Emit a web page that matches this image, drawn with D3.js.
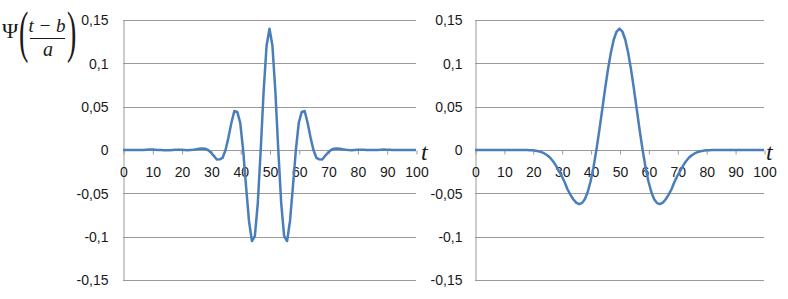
<!DOCTYPE html>
<html>
<head>
<meta charset="utf-8">
<script src="https://cdn.jsdelivr.net/npm/d3@7/dist/d3.min.js"></script>
<style>
    body { margin: 0; background: #fff; }
    svg { display: block; }
</style>
</head>
<body>
<div id="chart"></div>
<script>
// x values: t = 0..100
const tValues = d3.range(0, 101);

// left: Morlet-like wavelet
const morletValues = [
    0, 0, 0, 0, 0, 0, 0, 0, 0.0003, 0.0005,
    0.0005, 0.0003, 0, 0, -0.0002, -0.0003, -0.0002, 0, 0.0002, 0.0004,
    0.0003, 0, -0.0003, 0, 0.0003, 0.0008, 0.0014, 0.0018, 0.0015, 0,
    -0.0029, -0.0067, -0.0110, -0.0108, -0.0090, 0, 0.0146, 0.0314, 0.0450, 0.0440,
    0.0315, 0, -0.0420, -0.0819, -0.1050, -0.0993, -0.0616, 0, 0.0678, 0.1203,
    0.1400,
    0.1203, 0.0678, 0, -0.0616, -0.0993, -0.1050, -0.0819, -0.0420, 0, 0.0315,
    0.0440, 0.0450, 0.0314, 0.0146, 0, -0.0090, -0.0108, -0.0110, -0.0067, -0.0029,
    0, 0.0015, 0.0018, 0.0014, 0.0008, 0.0003, 0, -0.0002, 0, 0.0002,
    0.0003, 0.0002, 0, 0, 0, 0, 0, 0.0003, 0.0005, 0.0004,
    0.0002, 0, 0, 0, 0, 0, 0, 0, 0, 0
];

// right: Mexican hat
const hatValues = [
    0, 0, 0, 0, 0, 0, 0, 0, 0, 0,
    0, 0, 0, 0, 0, 0, 0, 0, 0, -0.0002,
    -0.0004, -0.0008, -0.0015, -0.0025, -0.0040, -0.0060, -0.0090, -0.0130, -0.0180, -0.0240,
    -0.0300, -0.0370, -0.0453, -0.0515, -0.0568, -0.0607, -0.0625, -0.0613, -0.0568, -0.0485,
    -0.0361, -0.0198, 0, 0.0224, 0.0462, 0.0702, 0.0927, 0.1121, 0.1272, 0.1367,
    0.1400,
    0.1367, 0.1272, 0.1121, 0.0927, 0.0702, 0.0462, 0.0224, 0, -0.0198, -0.0361,
    -0.0485, -0.0568, -0.0613, -0.0625, -0.0607, -0.0568, -0.0515, -0.0453, -0.0370, -0.0300,
    -0.0240, -0.0180, -0.0130, -0.0090, -0.0060, -0.0040, -0.0025, -0.0015, -0.0008, -0.0004,
    -0.0002, 0, 0, 0, 0, 0, 0, 0, 0, 0,
    0, 0, 0, 0, 0, 0, 0, 0, 0, 0
];

const yTicks = [0.15, 0.1, 0.05, 0, -0.05, -0.1, -0.15];
const xTicks = [0, 10, 20, 30, 40, 50, 60, 70, 80, 90, 100];

const width = 788, height = 299;

const svg = d3.select("#chart")
    .append("svg")
    .attr("width", width)
    .attr("height", height);

const fmt = v => v === 0 ? "0" : String(+v.toFixed(2)).replace(".", ",");

const y = d3.scaleLinear().domain([-0.15, 0.15]).range([280, 20]);

function drawPanel(values, left, right, labelGap, tX) {
    const x = d3.scaleLinear().domain([0, 100]).range([left, right]);
    const g = svg.append("g");

    // horizontal gridlines
    g.append("g")
        .selectAll("line")
        .data(yTicks)
        .enter().append("line")
        .attr("x1", left)
        .attr("x2", right)
        .attr("y1", d => Math.round(y(d)) + 0.5)
        .attr("y2", d => Math.round(y(d)) + 0.5)
        .attr("stroke", "#9a9a9a")
        .attr("stroke-width", 1);

    // vertical axis with labels
    const yAxis = g.append("g")
        .attr("transform", `translate(${left + 0.5},0.5)`)
        .call(d3.axisLeft(y).tickValues(yTicks).tickFormat(fmt).tickSize(0).tickPadding(labelGap));
    yAxis.select(".domain").attr("stroke", "#9a9a9a");
    yAxis.selectAll("text")
        .attr("font-family", "'Liberation Sans', Arial, sans-serif")
        .attr("font-size", "14px")
        .attr("fill", "#1a1a1a");

    // horizontal axis through zero
    const xAxis = g.append("g")
        .attr("transform", `translate(0.5,${Math.round(y(0)) + 0.5})`)
        .call(d3.axisBottom(x).tickValues(xTicks).tickSize(4).tickPadding(13));
    xAxis.select(".domain").remove();
    xAxis.selectAll(".tick line").attr("stroke", "#9a9a9a");
    xAxis.selectAll("text")
        .attr("font-family", "'Liberation Sans', Arial, sans-serif")
        .attr("font-size", "14px")
        .attr("fill", "#1a1a1a");

    // curve
    const line = d3.line()
        .x((d, i) => x(tValues[i]))
        .y(d => y(d));

    g.append("path")
        .datum(values)
        .attr("fill", "none")
        .attr("stroke", "#4a7ebb")
        .attr("stroke-width", 2.5)
        .attr("stroke-linejoin", "round")
        .attr("d", line);

    // axis name
    g.append("text")
        .attr("x", tX)
        .attr("y", 160)
        .attr("font-family", "'Liberation Serif', 'Times New Roman', serif")
        .attr("font-style", "italic")
        .attr("font-size", "24px")
        .attr("fill", "#1a1a1a")
        .text("t");
}

drawPanel(morletValues, 123, 416, 15, 421);
drawPanel(hatValues, 475, 764, 13, 766);

// y axis title: Psi((t - b) / a)
const title = svg.append("g")
    .attr("font-family", "'Liberation Serif', 'Times New Roman', serif")
    .attr("fill", "#1a1a1a");

title.append("text")
    .attr("x", 2)
    .attr("y", 38)
    .attr("font-size", "22px")
    .text("Ψ");

title.append("text")
    .attr("transform", "translate(19,51) scale(0.5,1)")
    .attr("font-size", "56px")
    .text("(");

title.append("text")
    .attr("x", 47)
    .attr("y", 32)
    .attr("text-anchor", "middle")
    .attr("font-size", "19px")
    .attr("font-style", "italic")
    .text("t − b");

title.append("line")
    .attr("x1", 30)
    .attr("x2", 65)
    .attr("y1", 38.5)
    .attr("y2", 38.5)
    .attr("stroke", "#1a1a1a")
    .attr("stroke-width", 1);

title.append("text")
    .attr("x", 48)
    .attr("y", 56)
    .attr("text-anchor", "middle")
    .attr("font-size", "20px")
    .attr("font-style", "italic")
    .text("a");

title.append("text")
    .attr("transform", "translate(67,51) scale(0.5,1)")
    .attr("font-size", "56px")
    .text(")");
</script>
</body>
</html>
